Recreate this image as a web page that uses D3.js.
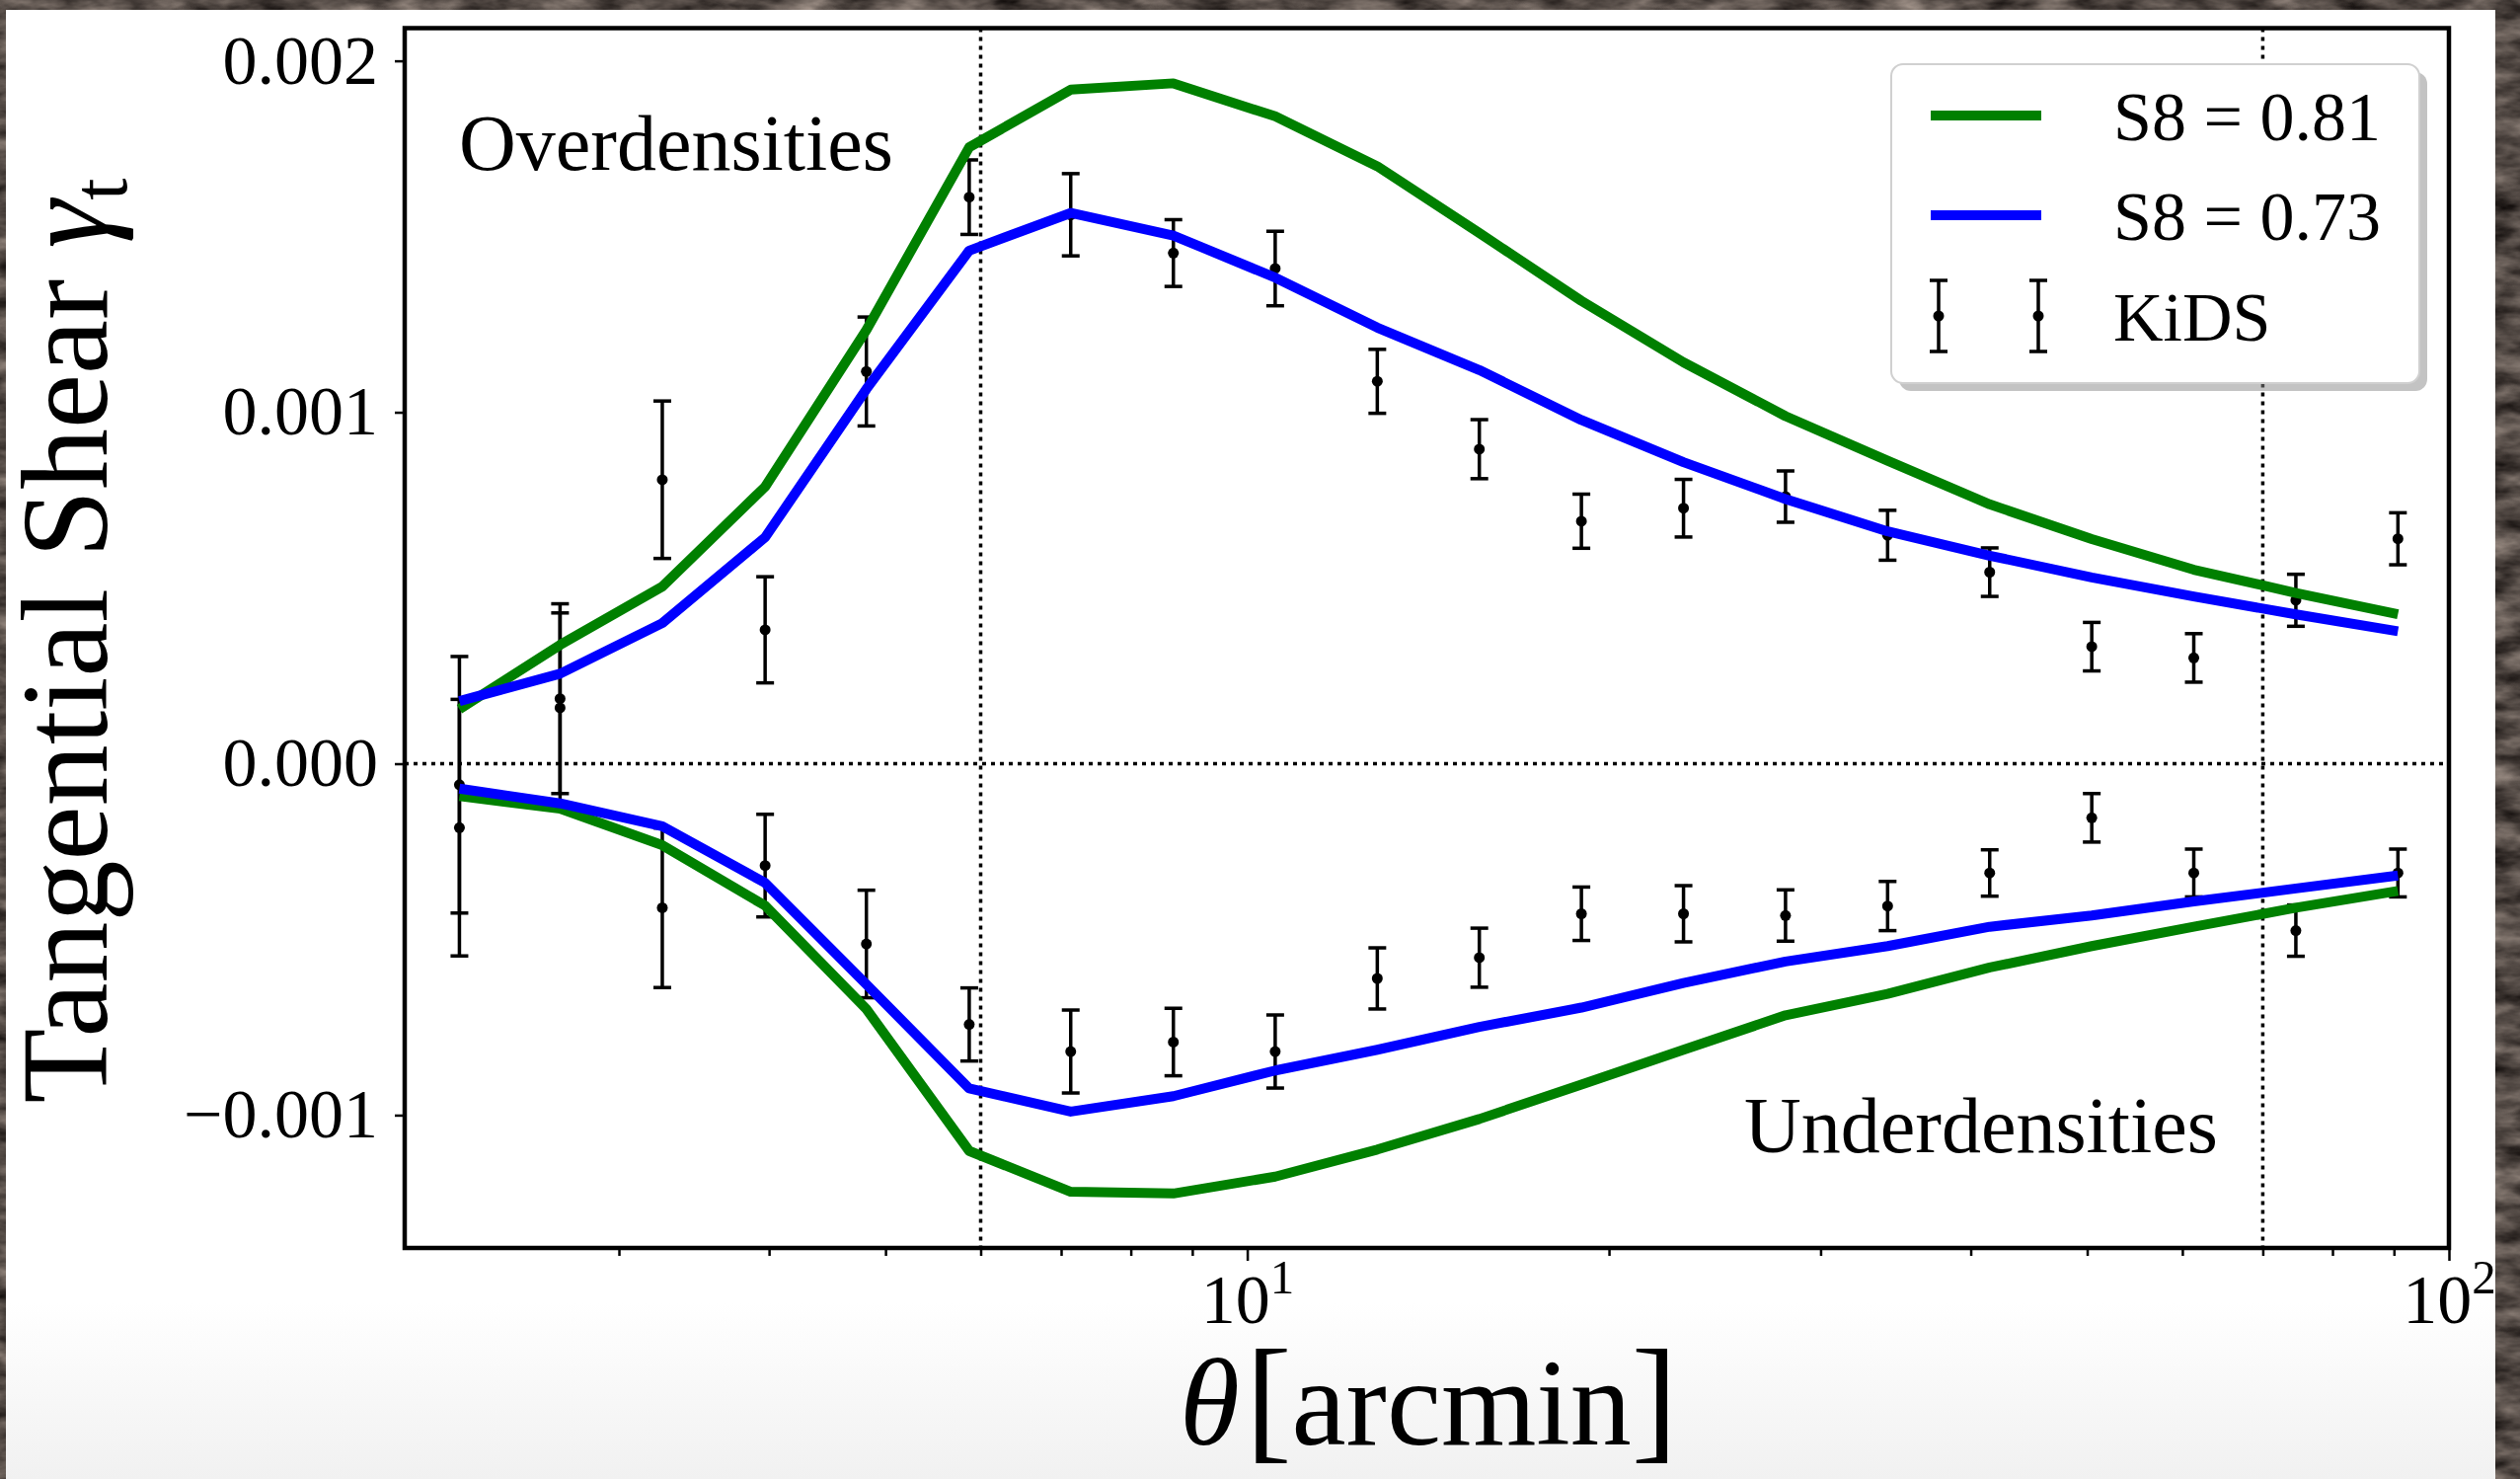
<!DOCTYPE html>
<html>
<head>
<meta charset="utf-8">
<script src="https://cdn.jsdelivr.net/npm/d3@7"></script>
<style>
  body { margin: 0; background: #2e2c2a; }
  svg { display: block; }
  text { font-family: "Liberation Serif", "Times New Roman", serif; fill: #000; }
</style>
</head>
<body>
<div id="chart"></div>
<script>
// angular bin centres, arcmin
const theta = [2.21, 2.68, 3.26, 3.97, 4.82, 5.87, 7.13, 8.68, 10.55, 12.83,
  15.6, 18.97, 23.07, 28.05, 34.11, 41.48, 50.44, 61.33, 74.58, 90.69];

// KiDS measurements
const overKids = [-0.00006, 0.000185, 0.000808, 0.000381, 0.001116, 0.001612, 0.001562, 0.001453, 0.001409, 0.001088,
  0.000895, 0.00069, 0.000727, 0.00076, 0.00065, 0.000545, 0.000333, 0.000301, 0.000465, 0.00064];
const overKidsErr = [0.000365, 0.00027, 0.000224, 0.000151, 0.000155, 0.000106, 0.000117, 0.000095, 0.000106, 0.000091,
  0.000084, 0.000077, 0.000082, 0.000073, 0.000071, 0.000069, 0.000069, 0.000069, 0.000074, 0.000074];
const underKids = [-0.000182, 0.000159, -0.00041, -0.00029, -0.000513, -0.000742, -0.000819, -0.000792, -0.000819, -0.000611,
  -0.000552, -0.000427, -0.000427, -0.000432, -0.000405, -0.000311, -0.000154, -0.000311, -0.000475, -0.000311];
const underKidsErr = [0.000365, 0.00027, 0.000227, 0.000146, 0.000153, 0.000104, 0.000118, 0.000096, 0.000104, 0.000087,
  0.000084, 0.000076, 0.00008, 0.000073, 0.00007, 0.000066, 0.000069, 0.000068, 0.000073, 0.000068];

// model predictions
const overS881 = [0.000155, 0.000338, 0.000504, 0.000788, 0.001234, 0.001754, 0.001918, 0.001936, 0.001842, 0.0017,
  0.00151, 0.001317, 0.001142, 0.000989, 0.000862, 0.000738, 0.000639, 0.000552, 0.000486, 0.000425];
const overS873 = [0.000178, 0.000256, 0.0004, 0.000644, 0.001066, 0.00146, 0.001567, 0.001503, 0.001383, 0.001241,
  0.00112, 0.000978, 0.000858, 0.000753, 0.000661, 0.000592, 0.00053, 0.000476, 0.000425, 0.000377];
const underS881 = [-0.000092, -0.000128, -0.000232, -0.000404, -0.000698, -0.001102, -0.001218, -0.001223, -0.001175, -0.001098,
  -0.001011, -0.000913, -0.000814, -0.000716, -0.000655, -0.00058, -0.000519, -0.000464, -0.00041, -0.000362];
const underS873 = [-0.000071, -0.000113, -0.000178, -0.000339, -0.000628, -0.000924, -0.00099, -0.000946, -0.000873, -0.000814,
  -0.000749, -0.000694, -0.000624, -0.000563, -0.000519, -0.000464, -0.000432, -0.000392, -0.000355, -0.000318];

const yTicks = [-0.001, 0, 0.001, 0.002];
const xMajorTicks = [10, 100];
const xTickExps = ["1", "2"];
const xMinorTicks = [3, 4, 5, 6, 7, 8, 9, 20, 30, 40, 50, 60, 70, 80, 90];
const vLines = [6, 70];
const legendLabels = ["S8 = 0.81", "S8 = 0.73", "KiDS"];

const W = 2553, H = 1498;
const margin = { top: 28.5, right: 72, bottom: 234, left: 410 };
const width = W - margin.left - margin.right,
  height = H - margin.top - margin.bottom;

const svg = d3.select("#chart").append("svg").attr("width", W).attr("height", H);
const defs = svg.append("defs");

// dark stone texture behind the white sheet
const marble = defs.append("filter").attr("id", "marble")
  .attr("x", 0).attr("y", 0).attr("width", "100%").attr("height", "100%")
  .attr("color-interpolation-filters", "sRGB");
marble.append("feTurbulence").attr("type", "fractalNoise")
  .attr("baseFrequency", "0.02 0.05").attr("numOctaves", 4).attr("seed", 7);
marble.append("feColorMatrix").attr("type", "matrix")
  .attr("values", "0.75 0 0 0 -0.05  0.7 0 0 0 -0.06  0.66 0 0 0 -0.06  0 0 0 0 1");
svg.append("rect").attr("width", W).attr("height", H).attr("filter", "url(#marble)");

const paper = defs.append("linearGradient").attr("id", "paper")
  .attr("x1", 0).attr("y1", 0).attr("x2", 0).attr("y2", 1);
paper.append("stop").attr("offset", "0.88").attr("stop-color", "#ffffff");
paper.append("stop").attr("offset", "1").attr("stop-color", "#f1f1f1");
svg.append("rect").attr("x", 6).attr("y", 10).attr("width", 2522).attr("height", H - 10)
  .attr("fill", "url(#paper)");

const g = svg.append("g").attr("transform", `translate(${margin.left},${margin.top})`);

const x = d3.scaleLog().domain([1.99, 100]).range([0, width]);
const y = d3.scaleLinear().domain([-0.001378, 0.002093]).range([height, 0]);

// y axis
const yAxis = g.append("g").call(
  d3.axisLeft(y).tickValues(yTicks).tickSize(10).tickPadding(17)
    .tickFormat(d => d === 0 ? "0.000" : (d < 0 ? "\u2212" : "") + Math.abs(d).toFixed(3))
);
yAxis.select(".domain").remove();
yAxis.selectAll("line").attr("stroke", "#000").attr("stroke-width", 2.5);
yAxis.selectAll("text").attr("font-size", 70).attr("font-family", null);

// x axis, minor then major
const xMinor = g.append("g").attr("transform", `translate(0,${height})`)
  .call(d3.axisBottom(x).tickValues(xMinorTicks).tickSize(8).tickFormat(""));
xMinor.select(".domain").remove();
xMinor.selectAll("line").attr("stroke", "#000").attr("stroke-width", 2.5);

const xMajor = g.append("g").attr("transform", `translate(0,${height})`)
  .call(d3.axisBottom(x).tickValues(xMajorTicks).tickSize(13));
xMajor.select(".domain").remove();
xMajor.selectAll("line").attr("stroke", "#000").attr("stroke-width", 2.5);
xMajor.selectAll(".tick text").each(function (d, i) {
  const t = d3.select(this).text(null).attr("dy", null).attr("y", 76)
    .attr("font-size", 70).attr("font-family", null);
  t.append("tspan").text("10");
  t.append("tspan").attr("font-size", 49).attr("dy", -30).text(xTickExps[i]);
});

// reference lines
const dotted = { stroke: "#000", width: 3.5, dash: "4 5" };
g.append("line")
  .attr("x1", 0).attr("x2", width).attr("y1", y(0)).attr("y2", y(0))
  .attr("stroke", dotted.stroke).attr("stroke-width", dotted.width).attr("stroke-dasharray", dotted.dash);
g.selectAll(".vline").data(vLines).join("line").attr("class", "vline")
  .attr("x1", d => x(d)).attr("x2", d => x(d)).attr("y1", 0).attr("y2", height)
  .attr("stroke", dotted.stroke).attr("stroke-width", dotted.width).attr("stroke-dasharray", dotted.dash);

// KiDS error bars
function errorbars(vals, errs) {
  const pts = theta.map((t, i) => ({ t: t, v: vals[i], e: errs[i] }));
  const eb = g.append("g").selectAll("g").data(pts).join("g")
    .attr("stroke", "#000").attr("stroke-width", 3.5);
  eb.append("line")
    .attr("x1", d => x(d.t)).attr("x2", d => x(d.t))
    .attr("y1", d => y(d.v - d.e)).attr("y2", d => y(d.v + d.e));
  eb.selectAll("line.cap").data(d => [d.v - d.e, d.v + d.e].map(c => ({ t: d.t, c: c })))
    .join("line").attr("class", "cap")
    .attr("x1", d => x(d.t) - 9).attr("x2", d => x(d.t) + 9)
    .attr("y1", d => y(d.c)).attr("y2", d => y(d.c));
  eb.append("circle").attr("cx", d => x(d.t)).attr("cy", d => y(d.v)).attr("r", 5.5)
    .attr("fill", "#000").attr("stroke", "none");
}
errorbars(overKids, overKidsErr);
errorbars(underKids, underKidsErr);

// model curves
const line = d3.line().x(d => x(d[0])).y(d => y(d[1]));
const curves = [
  { vals: overS881, color: "#008000" },
  { vals: underS881, color: "#008000" },
  { vals: overS873, color: "#0000ff" },
  { vals: underS873, color: "#0000ff" },
];
curves.forEach(c => {
  g.append("path")
    .datum(theta.map((t, i) => [t, c.vals[i]]))
    .attr("fill", "none")
    .attr("stroke", c.color)
    .attr("stroke-width", 10)
    .attr("stroke-linejoin", "round")
    .attr("d", line);
});

// frame
g.append("rect").attr("width", width).attr("height", height)
  .attr("fill", "none").attr("stroke", "#000").attr("stroke-width", 4.5);

// annotations
svg.append("text").attr("x", 465).attr("y", 172).attr("font-size", 80).text("Overdensities");
svg.append("text").attr("x", 1767).attr("y", 1167).attr("font-size", 80).text("Underdensities");

// axis labels
const xl = svg.append("text").attr("x", 1195).attr("y", 1463).attr("font-size", 124);
xl.append("tspan").attr("font-style", "italic").text("\u03b8");
xl.append("tspan").attr("font-size", 140).attr("dx", 6).text("[");
xl.append("tspan").text("arcmin");
xl.append("tspan").attr("font-size", 140).text("]");

const yl = svg.append("text").attr("transform", "translate(108,649) rotate(-90)")
  .attr("text-anchor", "middle").attr("font-size", 124);
yl.append("tspan").text("Tangential Shear ");
yl.append("tspan").attr("font-style", "italic").text("\u03b3");
yl.append("tspan").attr("font-size", 80).attr("dy", 20).text("t");

// legend
const lg = svg.append("g").attr("transform", "translate(1916,65)");
lg.append("rect").attr("x", 8).attr("y", 8).attr("width", 535).attr("height", 323).attr("rx", 12)
  .attr("fill", "#888").attr("opacity", 0.5);
lg.append("rect").attr("width", 535).attr("height", 323).attr("rx", 12)
  .attr("fill", "#fff").attr("stroke", "#d0d0d0").attr("stroke-width", 2);
const rows = [52, 153, 255];
[["#008000", 0], ["#0000ff", 1]].forEach(([col, i]) => {
  lg.append("line").attr("x1", 40).attr("x2", 152).attr("y1", rows[i]).attr("y2", rows[i])
    .attr("stroke", col).attr("stroke-width", 10);
});
[48, 149].forEach(cx => {
  const s = lg.append("g").attr("stroke", "#000").attr("stroke-width", 3.5);
  s.append("line").attr("x1", cx).attr("x2", cx).attr("y1", rows[2] - 36).attr("y2", rows[2] + 36);
  s.append("line").attr("x1", cx - 9).attr("x2", cx + 9).attr("y1", rows[2] - 36).attr("y2", rows[2] - 36);
  s.append("line").attr("x1", cx - 9).attr("x2", cx + 9).attr("y1", rows[2] + 36).attr("y2", rows[2] + 36);
  s.append("circle").attr("cx", cx).attr("cy", rows[2]).attr("r", 5.5).attr("fill", "#000").attr("stroke", "none");
});
legendLabels.forEach((lab, i) => {
  lg.append("text").attr("x", 225).attr("y", rows[i] + 25).attr("font-size", 70).text(lab);
});
</script>
</body>
</html>
